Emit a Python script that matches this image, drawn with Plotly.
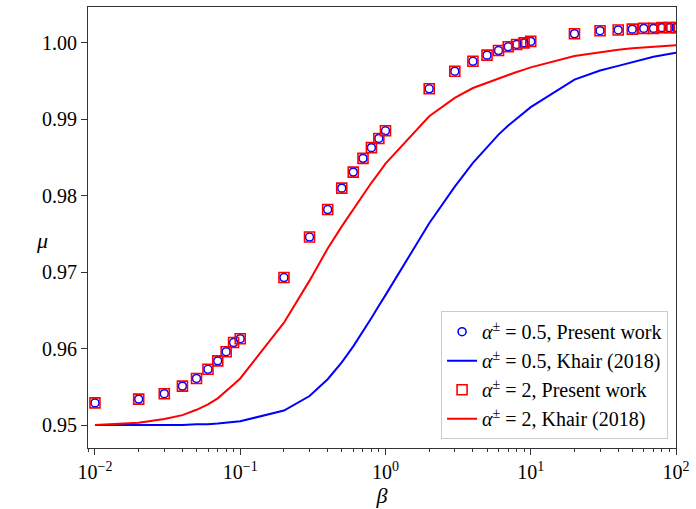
import plotly.graph_objects as go

beta = [0.01, 0.02, 0.03, 0.04, 0.05, 0.06, 0.07, 0.08, 0.09, 0.1,
        0.2, 0.3, 0.4, 0.5, 0.6, 0.7, 0.8, 0.9, 1,
        2, 3, 4, 5, 6, 7, 8, 9, 10,
        20, 30, 40, 50, 60, 70, 80, 90, 100]

present_a05 = [0.9529, 0.9534, 0.9541, 0.9551, 0.9561, 0.9573, 0.9584, 0.9596, 0.9608, 0.9613,
               0.9693, 0.9746, 0.9782, 0.9810, 0.9831, 0.9849, 0.9863, 0.9875, 0.9885,
               0.9940, 0.9963, 0.9976, 0.9984, 0.9990, 0.9995, 0.9998, 1.0000, 1.0002,
               1.0012, 1.0016, 1.0017, 1.0018, 1.0019, 1.0019, 1.0020, 1.0020, 1.0020]
present_a2 = list(present_a05)

khair_a05 = [0.9500, 0.9500, 0.9500, 0.9500, 0.9501, 0.9501, 0.9502, 0.9503, 0.9504, 0.9505,
             0.9519, 0.9538, 0.9560, 0.9582, 0.9603, 0.9622, 0.9640, 0.9656, 0.9670,
             0.9764, 0.9812, 0.9843, 0.9864, 0.9880, 0.9892, 0.9901, 0.9909, 0.9916,
             0.9952, 0.9964, 0.9970, 0.9975, 0.9979, 0.9982, 0.9984, 0.9986, 0.9987]
khair_a2 = [0.9500, 0.9503, 0.9508, 0.9513, 0.9520, 0.9527, 0.9535, 0.9544, 0.9553, 0.9561,
            0.9634, 0.9689, 0.9731, 0.9760, 0.9782, 0.9802, 0.9817, 0.9830, 0.9842,
            0.9904, 0.9928, 0.9941, 0.9948, 0.9954, 0.9958, 0.9962, 0.9965, 0.9968,
            0.9983, 0.9988, 0.9991, 0.9993, 0.9994, 0.9995, 0.9996, 0.9996, 0.9997]

x_tickvals = [0.01, 0.1, 1, 10, 100]
x_ticktext = ["10<sup>−2</sup>", "10<sup>−1</sup>", "10<sup>0</sup>", "10<sup>1</sup>", "10<sup>2</sup>"]
y_tickvals = [0.95, 0.96, 0.97, 0.98, 0.99, 1.00]

FONT = "Liberation Serif"

fig = go.Figure()
fig.add_trace(go.Scatter(
    x=beta, y=present_a05, mode="markers",
    marker=dict(symbol="circle-open", size=8, color="#0000ff", line=dict(width=1.6)),
    name="<i>α</i><sup>±</sup> = 0.5, Present work"))
fig.add_trace(go.Scatter(
    x=beta, y=khair_a05, mode="lines",
    line=dict(color="#0000ff", width=2),
    name="<i>α</i><sup>±</sup> = 0.5, Khair (2018)"))
fig.add_trace(go.Scatter(
    x=beta, y=present_a2, mode="markers",
    marker=dict(symbol="square-open", size=10, color="#ff0000", line=dict(width=1.6)),
    name="<i>α</i><sup>±</sup> = 2, Present work"))
fig.add_trace(go.Scatter(
    x=beta, y=khair_a2, mode="lines",
    line=dict(color="#ff0000", width=2),
    name="<i>α</i><sup>±</sup> = 2, Khair (2018)"))

fig.update_layout(
    width=696, height=509,
    margin=dict(l=88, r=15, t=6, b=61),
    plot_bgcolor="white", paper_bgcolor="white",
    font=dict(family=FONT, size=20, color="black"),
    showlegend=True,
    legend=dict(x=0.9865, y=0.02, xanchor="right", yanchor="bottom",
                bgcolor="rgba(255,255,255,0.8)", bordercolor="#cccccc", borderwidth=1,
                font=dict(family=FONT, size=20), tracegroupgap=0, itemwidth=30),
    annotations=[dict(text="<i>μ</i>", xref="paper", yref="paper",
                      x=-0.092, y=0.47, showarrow=False,
                      font=dict(family=FONT, size=22))],
)
fig.update_xaxes(
    type="log", range=[-2.048, 2.0],
    tickvals=x_tickvals, ticktext=x_ticktext,
    ticks="outside", ticklen=6, tickwidth=1, tickcolor="#333333",
    showline=True, linecolor="#333333", linewidth=1.2, mirror=True,
    showgrid=False, zeroline=False,
    minor=dict(ticks="outside", ticklen=3, tickwidth=1, tickcolor="#333333",
               dtick="D1", showgrid=False),
    title=dict(text="<i>β</i>", font=dict(family=FONT, size=22), standoff=2),
    tickfont=dict(family=FONT, size=20),
)
fig.update_yaxes(
    range=[0.9470, 1.0047],
    tickvals=y_tickvals, tickformat=".2f",
    ticks="outside", ticklen=6, tickwidth=1, tickcolor="#333333",
    showline=True, linecolor="#333333", linewidth=1.2, mirror=True,
    showgrid=False, zeroline=False,
    tickfont=dict(family=FONT, size=20),
)

fig.write_html("out.html")
